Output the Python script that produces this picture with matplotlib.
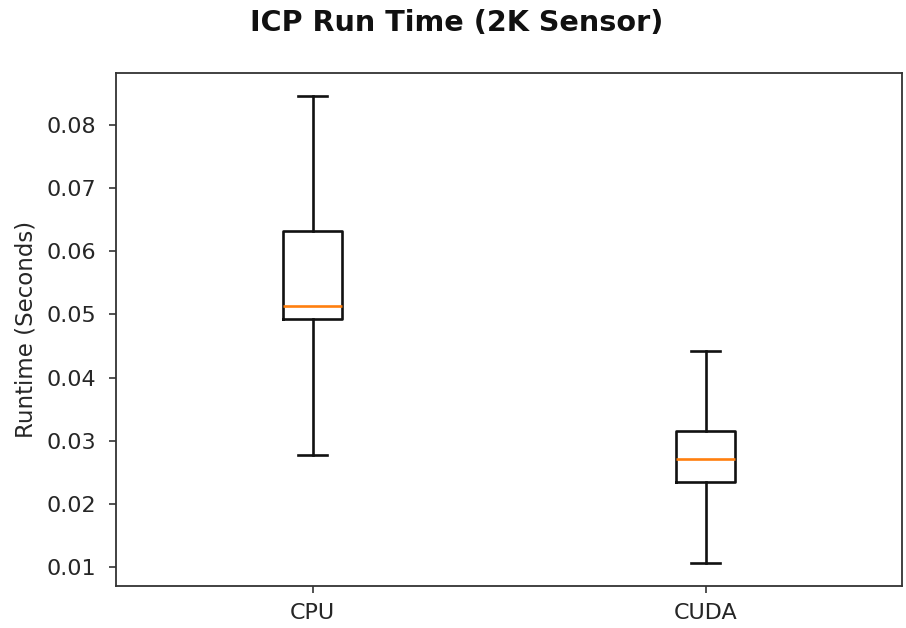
import matplotlib
matplotlib.use("Agg")
import matplotlib.pyplot as plt

categories = ["CPU", "CUDA"]
whislo = [0.0278, 0.0107]
q1 = [0.0492, 0.0234]
med = [0.0513, 0.0271]
q3 = [0.0632, 0.0316]
whishi = [0.0845, 0.0442]

stats = [dict(label=c, whislo=lo, q1=a, med=m, q3=b, whishi=hi, fliers=[])
         for c, lo, a, m, b, hi in zip(categories, whislo, q1, med, q3, whishi)]

text_color = "#262626"
fig = plt.figure(figsize=(9.06, 6.28), dpi=100)
ax = fig.add_axes([116/906, 1 - 586/628, (902 - 116)/906, (586 - 73)/628])
lw = 1.9
ax.bxp(stats, showfliers=False,
       boxprops=dict(linewidth=lw, color="#111111"),
       whiskerprops=dict(linewidth=lw, color="#111111"),
       capprops=dict(linewidth=lw, color="#111111"),
       medianprops=dict(linewidth=lw, color="#ff7f0e"))
ax.tick_params(labelsize=16, width=1.2, length=5,
               colors="#333333", labelcolor=text_color)
ax.tick_params(axis="y", pad=9)
ax.tick_params(axis="x", pad=7)
for s in ax.spines.values():
    s.set_linewidth(1.3)
    s.set_color("#333333")
ax.set_ylabel("Runtime (Seconds)", fontsize=16.5, color=text_color, labelpad=7)
fig.suptitle("ICP Run Time (2K Sensor)", fontsize=20.6, fontweight="bold",
             x=0.504, y=0.985, color="#111111")
fig.savefig("out.png", dpi=100)
